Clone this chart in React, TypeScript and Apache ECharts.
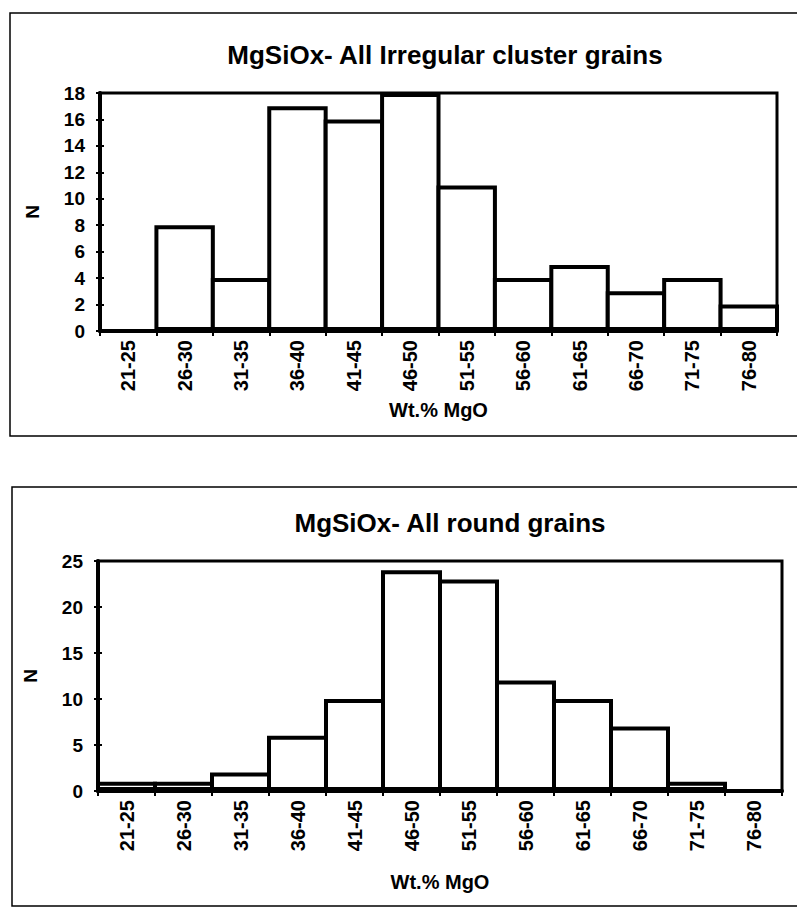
import React, { useEffect, useRef } from "react";
import * as echarts from "echarts";

const categories = ["21-25", "26-30", "31-35", "36-40", "41-45", "46-50", "51-55", "56-60", "61-65", "66-70", "71-75", "76-80"];
const irregularCounts = [0, 8, 4, 17, 16, 18, 11, 4, 5, 3, 4, 2];
const roundCounts = [1, 1, 2, 6, 10, 24, 23, 12, 10, 7, 1, 0];
const titleIrregular = "MgSiOx- All Irregular cluster grains";
const titleRound = "MgSiOx- All round grains";
const xName = "Wt.% MgO";
const yName = "N";

const FONT = "'Liberation Sans', Arial, sans-serif";
const BORDER = 4;
const GRID1 = { left: 100, top: 93, width: 677, height: 238 };
const GRID2 = { left: 98, top: 561, width: 684, height: 230 };

export default function App() {
  const ref = useRef<HTMLDivElement>(null);
  useEffect(() => {
    document.body.style.margin = "0";
    const chart = echarts.init(ref.current!, null, { renderer: "svg" });

    const xAxisFor = (gridIndex: number, nameGap: number) => ({
      type: "category",
      gridIndex,
      data: categories,
      boundaryGap: true,
      name: xName,
      nameLocation: "middle",
      nameGap,
      nameTextStyle: { fontFamily: FONT, fontWeight: "bold", fontSize: 20, color: "#000", verticalAlign: "top" },
      axisLine: { lineStyle: { color: "#000", width: 4 } },
      axisTick: { show: true, length: 5, lineStyle: { color: "#000", width: 2 } },
      axisLabel: { rotate: 90, margin: 9, fontFamily: FONT, fontWeight: "bold", fontSize: 20, color: "#000" },
      splitLine: { show: false },
      z: 5,
    });

    const yAxisFor = (gridIndex: number, max: number, interval: number, withLabels: boolean) => ({
      type: "value",
      gridIndex,
      position: "left",
      min: 0,
      max,
      interval,
      name: withLabels ? yName : "",
      nameLocation: "middle",
      nameGap: 58,
      nameRotate: 90,
      nameTextStyle: { fontFamily: FONT, fontWeight: "bold", fontSize: 19, color: "#000" },
      axisLine: { show: withLabels, lineStyle: { color: "#000", width: 4 } },
      axisTick: { show: true, inside: !withLabels, length: 4, lineStyle: { color: "#000", width: 2 } },
      axisLabel: { show: withLabels, margin: 15, fontFamily: FONT, fontWeight: "bold", fontSize: 19, color: "#000" },
      splitLine: { show: false },
      z: 5,
    });

    const barStyle = {
      color: "#fff",
      borderColor: "#000",
      borderWidth: BORDER,
    };

    chart.setOption({
      animation: false,
      backgroundColor: "#fff",
      title: [
        {
          text: titleIrregular,
          left: 440,
          top: 37,
          textAlign: "center",
          textStyle: { fontFamily: FONT, fontWeight: "bold", fontSize: 26, color: "#000" },
        },
        {
          text: titleRound,
          left: 445,
          top: 505,
          textAlign: "center",
          textStyle: { fontFamily: FONT, fontWeight: "bold", fontSize: 26, color: "#000" },
        },
      ],
      grid: [
        { ...GRID1, show: true, borderColor: "#000", borderWidth: 3, backgroundColor: "transparent" },
        { ...GRID2, show: true, borderColor: "#000", borderWidth: 3, backgroundColor: "transparent" },
      ],
      xAxis: [xAxisFor(0, 69), xAxisFor(1, 81)],
      yAxis: [
        yAxisFor(0, 18, 2, true),
        yAxisFor(0, 18, 2, false),
        yAxisFor(1, 25, 5, true),
        yAxisFor(1, 25, 5, false),
      ],
      series: [
        {
          type: "bar",
          xAxisIndex: 0,
          yAxisIndex: 0,
          data: irregularCounts,
          barWidth: GRID1.width / categories.length + BORDER,
          itemStyle: barStyle,
        },
        {
          type: "bar",
          xAxisIndex: 1,
          yAxisIndex: 2,
          data: roundCounts,
          barWidth: GRID2.width / categories.length + BORDER,
          itemStyle: barStyle,
        },
      ],
      graphic: [
        {
          type: "rect",
          shape: { x: 10, y: 13, width: 800, height: 423 },
          style: { fill: "none", stroke: "#000", lineWidth: 1.5 },
          silent: true,
          z: -1,
        },
        {
          type: "rect",
          shape: { x: 12, y: 487, width: 800, height: 419 },
          style: { fill: "none", stroke: "#000", lineWidth: 1.5 },
          silent: true,
          z: -1,
        },
      ],
    });

    return () => chart.dispose();
  }, []);

  return <div ref={ref} style={{ position: "absolute", left: 0, top: 0, width: 797, height: 909 }} />;
}
